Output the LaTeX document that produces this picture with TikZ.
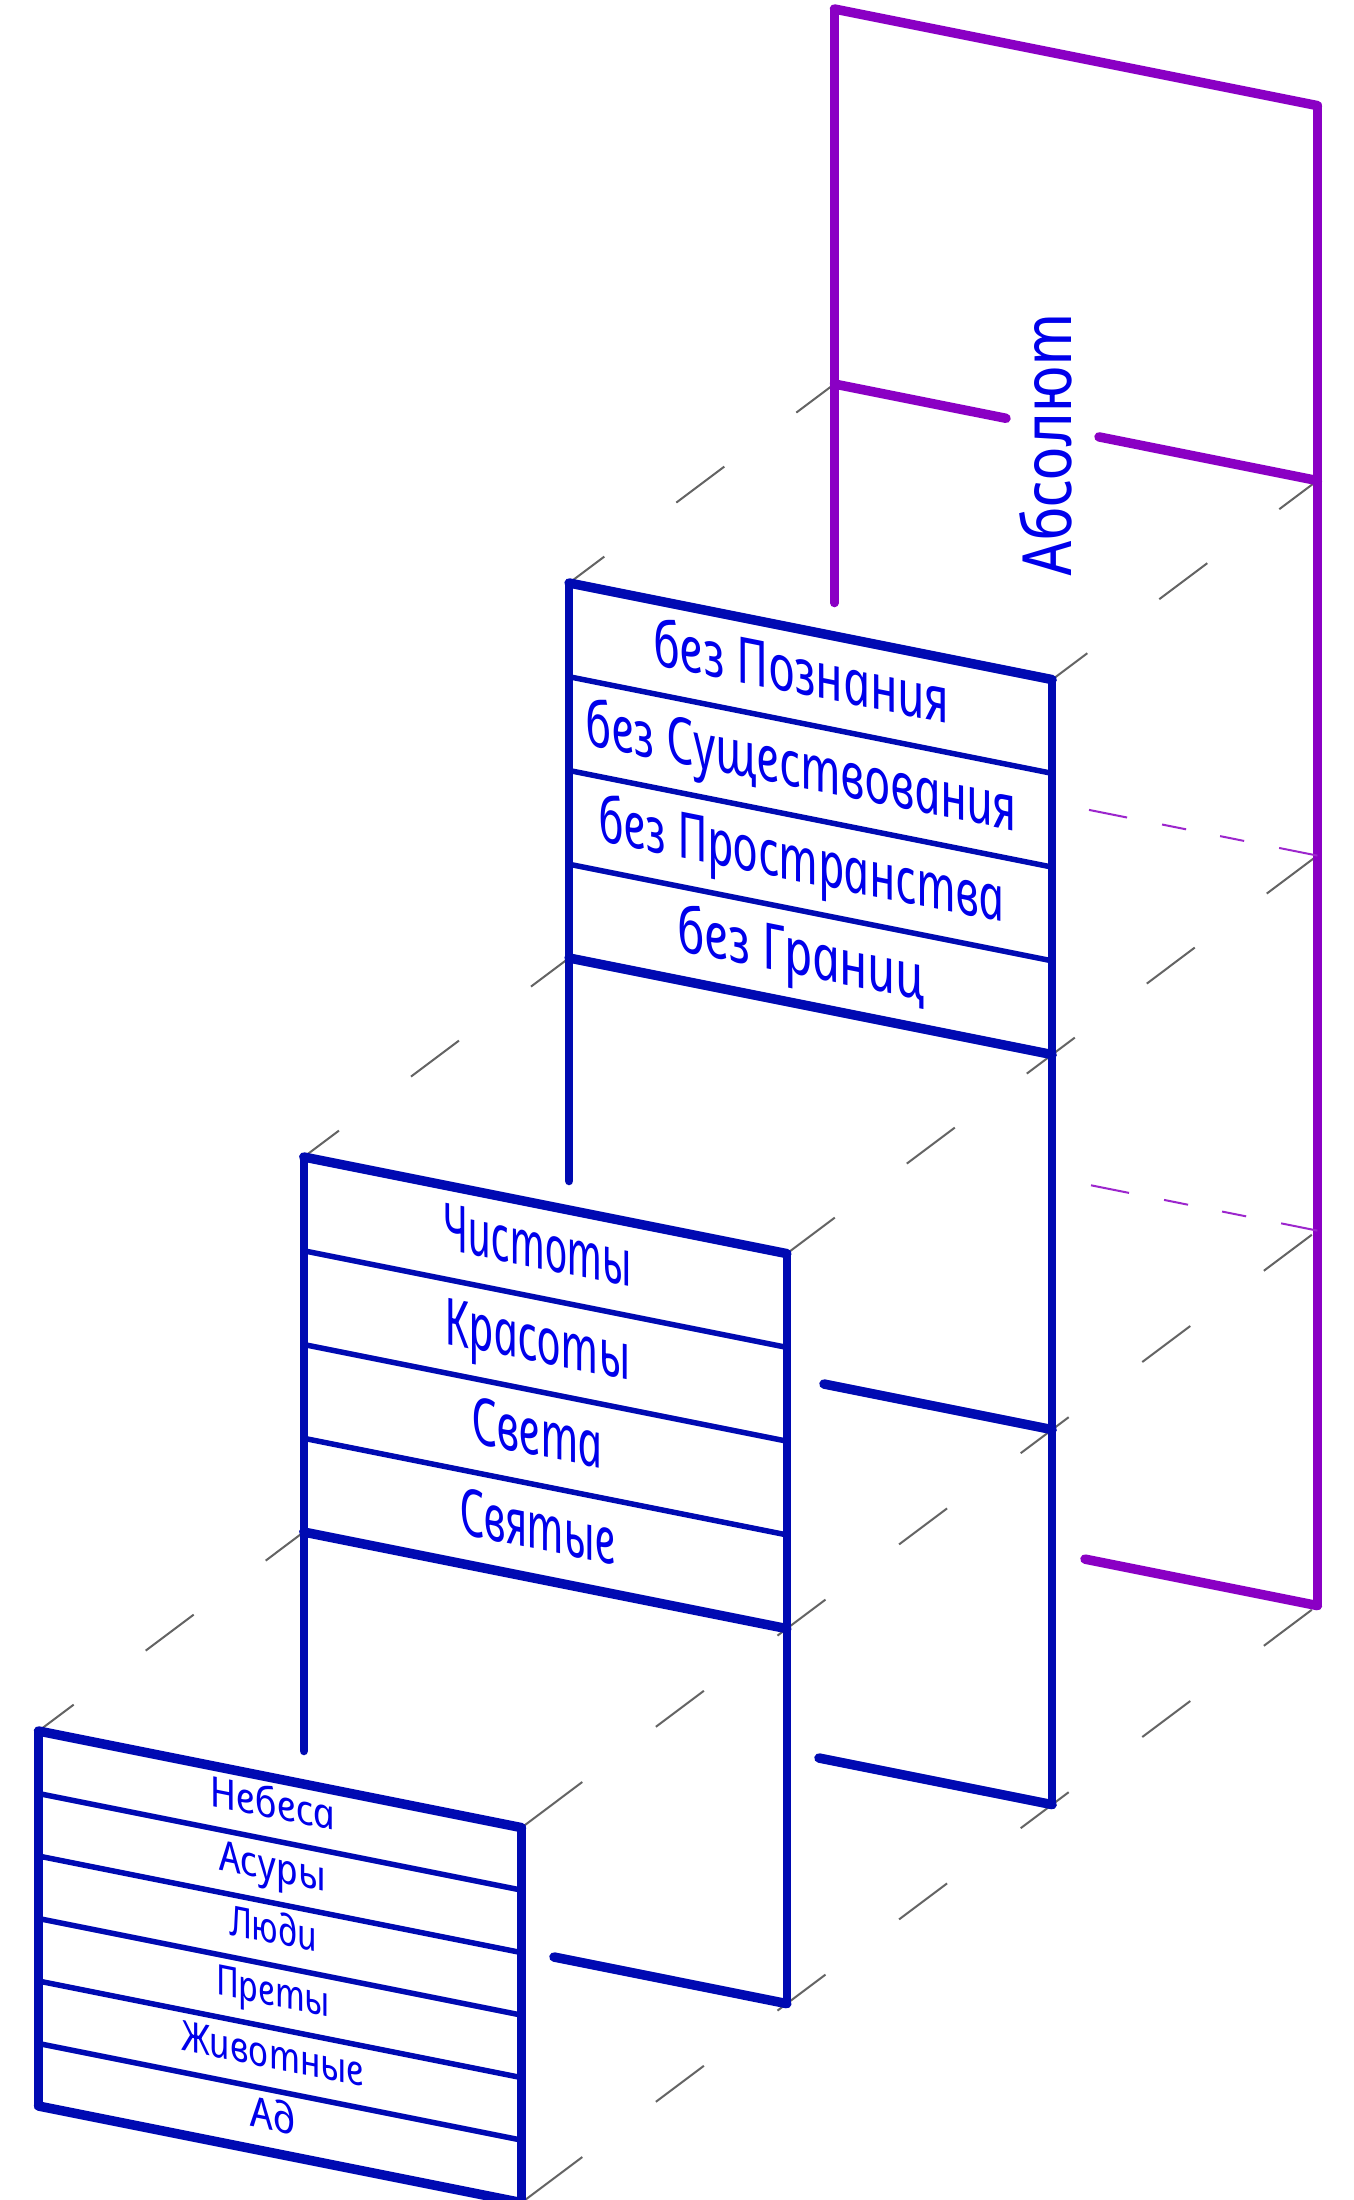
\documentclass[tikz,border=0pt]{standalone}
\usepackage{fontspec}
\setmainfont{Noto Sans}
\newfontfamily\gostfam{Noto Sans}
\definecolor{lineblue}{RGB}{0,10,178}
\definecolor{textblue}{RGB}{0,0,235}
\definecolor{absviolet}{RGB}{138,0,196}
\definecolor{depthgray}{RGB}{100,100,100}
\newcommand\fTop{\gostfam\itshape\fontsize{64}{72}\selectfont}
\newcommand\fMid{\gostfam\itshape\fontsize{65}{72}\selectfont}
\newcommand\fBot{\gostfam\itshape\fontsize{42}{48}\selectfont}
\newcommand\fAbs{\gostfam\itshape\fontsize{68}{76}\selectfont}
\newsavebox\fitbox
\newcommand\fitlabel[7]{%
  \pgfinterruptpicture\global\setbox\fitbox=\hbox{#5#7}\endpgfinterruptpicture
  \pgfmathsetmacro\fitratio{#4/\the\wd\fitbox}%
  \node[lbl, font=#5, #6] (#1) at (#2,#3) {#7};%
}
\tikzset{
  lbl/.style={inner sep=0pt, outer sep=0pt, anchor=base, text=textblue},
  slanttext/.style={yslant=-0.2, xscale=\fitratio, xslant=-0.2126},
  uprighttext/.style={rotate=90, xscale=\fitratio, xslant=-0.2126},
  thickedge/.style={draw=lineblue, line width=9.5pt, line cap=round, line join=round},
  postedge/.style={draw=lineblue, line width=8.5pt, line cap=round},
  rowedge/.style={draw=lineblue, line width=5.5pt, line cap=round},
  vthick/.style={draw=absviolet, line width=9.5pt, line cap=round, line join=round},
  vpost/.style={draw=absviolet, line width=8.5pt, line cap=round},
  vhidden/.style={draw=absviolet!85, line width=2pt, dash pattern=on 38.8pt off 35.7pt on 24.5pt off 34.7pt on 24.5pt off 35.7pt on 60pt off 20pt},
  depthline/.style={draw=depthgray, line width=2pt},
  depthshort/.style={depthline, dash pattern=on 60pt off 90pt, dash phase=16pt},
  depthmid/.style={depthline, dash pattern=on 60pt off 90pt},
  depthlong/.style={depthline, dash pattern=on 76pt off 92pt on 60pt off 92pt on 60pt off 92pt on 60pt off 92pt on 60pt off 92pt on 60pt off 92pt on 60pt off 92pt},
}
\begin{document}
\begin{tikzpicture}[x=1pt,y=-1pt]
\useasboundingbox (0,0) rectangle (1353,2200);
\fill[white] (0,0) rectangle (1353,2200);
% ---- corner coordinates ----
\coordinate (TL0) at (38.5,1731);   \coordinate (TR0) at (521.5,1827.6);
\coordinate (BL0) at (38.5,2106);   \coordinate (BR0) at (521.5,2202.6);
\coordinate (TL1) at (303.8,1157);  \coordinate (TR1) at (786.8,1253.6);
\coordinate (BL1) at (303.8,1532);  \coordinate (BR1) at (786.8,1628.6);
\coordinate (GR1) at (786.8,2003.6);
\coordinate (TL2) at (569.1,583);   \coordinate (TR2) at (1052.1,679.6);
\coordinate (BL2) at (569.1,958);   \coordinate (BR2) at (1052.1,1054.6);
\coordinate (MR2) at (1052.1,1429.6); \coordinate (GR2) at (1052.1,1804.6);
\coordinate (TL3) at (834.4,9);     \coordinate (TR3) at (1317.4,105.6);
\coordinate (AL3) at (834.4,384);   \coordinate (AR3) at (1317.4,480.6);
\coordinate (BR3) at (1317.4,855.6); \coordinate (MR3) at (1317.4,1230.6);
\coordinate (GR3) at (1317.4,1605.6);
% ---- depth (receding) lines ----
\draw[depthshort] (TL0) -- (BL1);
\draw[depthshort] (TL1) -- (BL2);
\draw[depthshort] (TL2) -- (AL3);
\draw[depthshort] (TR2) -- (AR3);
\draw[depthmid] (TR1) -- (BR2) -- (BR3);
\draw[depthlong] (TR0) -- (BR1) -- (MR2) -- (MR3);
\draw[depthlong] (BR0) -- (GR1) -- (GR2) -- (GR3);
% ---- Absolute (violet) frame ----
\draw[vpost] (TL3) -- (834.4,603);
\draw[vpost] (TR3) -- (GR3);
\draw[vthick] (TL3) -- (TR3);
\draw[vthick] (AL3) -- (1006,418.3);
\draw[vthick] (1099,436.9) -- (AR3);
\draw[vthick] (1085,1559.1) -- (GR3);
\draw[vhidden] (1089,809.9) -- (BR3);
\draw[vhidden] (1091,1185.3) -- (MR3);
% ---- level 2 (top box) ----
\draw[postedge] (TL2) -- (569.1,1181);
\draw[postedge] (TR2) -- (GR2);
\draw[thickedge] (TL2) -- (TR2);
\draw[thickedge] (BL2) -- (BR2);
\foreach \y in {676.75,770.5,864.25}
  \draw[rowedge] (569.1,\y) -- (1052.1,\y+96.6);
\draw[thickedge] (824,1384) -- (MR2);
\draw[thickedge] (819,1758) -- (GR2);
% ---- level 1 (middle box) ----
\draw[postedge] (TL1) -- (303.8,1751);
\draw[postedge] (TR1) -- (GR1);
\draw[thickedge] (TL1) -- (TR1);
\draw[thickedge] (BL1) -- (BR1);
\foreach \y in {1250.75,1344.5,1438.25}
  \draw[rowedge] (303.8,\y) -- (786.8,\y+96.6);
\draw[thickedge] (554,1957) -- (GR1);
% ---- level 0 (bottom box) ----
\draw[postedge] (TL0) -- (BL0);
\draw[postedge] (TR0) -- (BR0);
\draw[thickedge] (TL0) -- (TR0);
\draw[thickedge] (BL0) -- (BR0);
\foreach \y in {1793.5,1856,1918.5,1981,2043.5}
  \draw[rowedge] (38.5,\y) -- (521.5,\y+96.6);
% ---- labels ----
\fitlabel{abs}{1071.7}{441}{262}{\fAbs}{uprighttext}{Абсолют}
\fitlabel{t1}{804}{695.0}{295}{\fTop}{slanttext}{без Познания}
\fitlabel{t2}{804}{788.7}{431}{\fTop}{slanttext}{без Существования}
\fitlabel{t3}{804}{882.5}{406}{\fTop}{slanttext}{без Пространства}
\fitlabel{t4}{804}{976.2}{247}{\fTop}{slanttext}{без Границ}
\fitlabel{m1}{540}{1268.7}{189}{\fMid}{slanttext}{Чистоты}
\fitlabel{m2}{540}{1362.5}{185}{\fMid}{slanttext}{Красоты}
\fitlabel{m3}{540}{1456.2}{131}{\fMid}{slanttext}{Света}
\fitlabel{m4}{540}{1550.0}{156}{\fMid}{slanttext}{Святые}
\fitlabel{b1}{275}{1818.8}{125}{\fBot}{slanttext}{Небеса}
\fitlabel{b2}{275}{1881.3}{107}{\fBot}{slanttext}{Асуры}
\fitlabel{b3}{275}{1943.8}{88}{\fBot}{slanttext}{Люди}
\fitlabel{b4}{275}{2006.3}{114}{\fBot}{slanttext}{Преты}
\fitlabel{b5}{275}{2068.8}{183}{\fBot}{slanttext}{Животные}
\fitlabel{b6}{275}{2131.3}{45}{\fBot}{slanttext}{Ад}
\end{tikzpicture}
\end{document}
